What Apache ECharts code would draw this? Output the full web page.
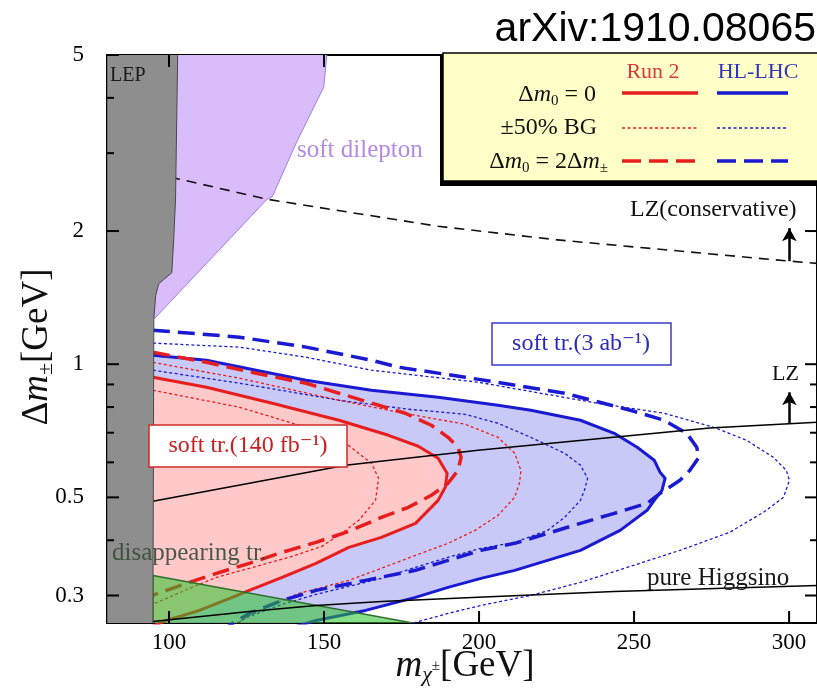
<!DOCTYPE html>
<html>
<head>
<meta charset="utf-8">
<script src="https://cdn.jsdelivr.net/npm/echarts@6/dist/echarts.min.js"></script>
<style>
  html, body { margin: 0; padding: 0; background: #fff; }
  #chart { width: 817px; height: 692px; }
</style>
</head>
<body>
<div id="chart"></div>
<script>
// Axis ranges and ticks
const xMin = 80, xMax = 309;
const yMin = 0.26, yMax = 5;
const xTicks = [100, 150, 200, 250, 300];
const yMajorTicks = [0.3, 0.5, 1, 2, 5];
const yMinorTicks = [0.4, 0.6, 0.7, 0.8, 0.9, 3, 4];

// Excluded / reference regions  [m_chi (GeV), dm (GeV)]
const lepBoundary = [[102.8, 5.2], [102.8, 5], [102.1, 2.35], [101.5, 1.91], [100.9, 1.61], [96.7, 1.52],
  [95.7, 1.43], [95.1, 1.26], [94.8, 0.25]];
const softDilepton = [[94, 5.2], [150.9, 5.2], [150.9, 5], [149.9, 4.23], [141.0, 3.16], [133.3, 2.39],
  [131.6, 2.36], [95.4, 1.27], [94, 1.27]];
const disappearingTrack = [[94.8, 0.333], [179.5, 0.2594], [94.8, 0.2594]];

// Direct-detection and theory lines
const lzConservative = [[95, 2.70], [103.4, 2.62], [131.6, 2.36], [186.8, 2.05], [225.3, 1.91], [300.1, 1.71], [309, 1.69]];
const lzLine = [[94.8, 0.49], [125.9, 0.538], [157.0, 0.591], [174.0, 0.610], [199.7, 0.639], [274.4, 0.717], [309, 0.739]];
const pureHiggsino = [[94.8, 0.2622], [125.9, 0.2760], [147.4, 0.2847], [168.5, 0.2909], [199.7, 0.2971], [243.6, 0.3065], [309, 0.3162]];
const lzArrowConservative = [[300.1, 1.71], [300.1, 2.03]];
const lzArrow = [[300.1, 0.733], [300.1, 0.864]];

// Soft-track reach, Run 2 (140 fb^-1)
const run2Solid = [[94, 0.9345], [94.8, 0.9345], [112.1, 0.887], [133.3, 0.8161], [154.8, 0.7469], [170.8, 0.6907],
  [180.4, 0.6524], [186.8, 0.6128], [189.7, 0.5666], [189.1, 0.5268], [186.8, 0.4923], [179.5, 0.4368],
  [168.5, 0.406], [158.0, 0.3855], [147.4, 0.3547], [136.5, 0.3297], [125.9, 0.3081], [120.4, 0.2971],
  [109.8, 0.2776], [99.2, 0.2635], [93.8, 0.254]];
const run2Dashed = [[94.8, 1.064], [112.1, 1.010], [128.1, 0.9541], [144.2, 0.9058], [154.8, 0.8598], [167.6, 0.8077],
  [176.2, 0.7747], [184.6, 0.7278], [190.0, 0.6835], [193.2, 0.6489], [194.2, 0.616], [193.2, 0.5755],
  [190.0, 0.538], [184.6, 0.5054], [177.2, 0.4748], [168.5, 0.4506], [158.0, 0.419], [147.4, 0.3956],
  [136.5, 0.3756], [125.9, 0.3547], [115.3, 0.3367], [106.6, 0.3212], [99.2, 0.3081], [93.8, 0.2986]];
const run2BgPlus = [[94.8, 0.8733], [122.7, 0.7993], [144.2, 0.7202], [157.0, 0.6626], [165.3, 0.597], [167.6, 0.5522],
  [166.6, 0.4923], [161.2, 0.4436], [155.7, 0.4146], [149.3, 0.3875], [138.7, 0.366], [125.9, 0.3456],
  [115.3, 0.3297], [106.6, 0.3114], [99.2, 0.2955], [93.8, 0.2849]];
const run2BgMinus = [[94.8, 1.010], [122.7, 0.9297], [154.8, 0.829], [174.0, 0.7788], [195.5, 0.7315], [206.1, 0.6835],
  [211.5, 0.6289], [213.5, 0.5755], [213.1, 0.5408], [211.5, 0.5001], [206.1, 0.4553], [198.7, 0.4211],
  [190.0, 0.3936], [179.5, 0.3698], [168.5, 0.3456], [158.0, 0.3246], [141.9, 0.3033], [134.5, 0.2879],
  [125.9, 0.2704], [121.1, 0.2567]];

// Soft-track reach, HL-LHC (3 ab^-1)
const hlSolid = [[94, 1.048], [94.8, 1.048], [112.1, 1.021], [128.1, 0.9692], [144.2, 0.9201], [165.3, 0.8733], [186.8, 0.8422],
  [206.1, 0.8077], [216.7, 0.7869], [232.7, 0.7469], [243.6, 0.6979], [251.0, 0.6489], [256.5, 0.6065],
  [258.4, 0.5695], [260.0, 0.5522], [259.0, 0.5187], [256.5, 0.4923], [254.2, 0.4674], [245.5, 0.4211],
  [232.7, 0.3795], [222.1, 0.3603], [211.5, 0.342], [200.6, 0.328], [190.0, 0.313], [179.5, 0.2971],
  [163.4, 0.2776], [147.4, 0.2635], [141.0, 0.2554]];
const hlDashed = [[94.8, 1.194], [122.7, 1.151], [144.2, 1.093], [165.3, 1.021], [174.0, 0.9845], [195.5, 0.9345],
  [227.6, 0.8598], [248.8, 0.7869], [259.7, 0.7469], [267.0, 0.6979], [270.2, 0.6489], [270.9, 0.616],
  [268.0, 0.5755], [264.8, 0.5464], [258.4, 0.5106], [254.2, 0.4847], [243.6, 0.4601], [232.7, 0.4368],
  [222.1, 0.4146], [211.5, 0.3936], [200.6, 0.3795], [190.0, 0.3603], [179.5, 0.342], [163.4, 0.3246],
  [147.4, 0.3081], [136.5, 0.2924], [125.9, 0.2733], [120.4, 0.2594], [118.8, 0.254]];
const hlBgPlus = [[94.8, 0.9692], [122.7, 0.9058], [154.8, 0.829], [177.2, 0.791], [195.5, 0.7705], [206.1, 0.7354],
  [216.7, 0.6835], [227.6, 0.6289], [232.7, 0.5914], [235.0, 0.5522], [234.0, 0.5187], [232.7, 0.4923],
  [227.6, 0.4506], [222.1, 0.4211], [211.5, 0.3956], [200.6, 0.3835], [190.0, 0.366], [179.5, 0.3474],
  [168.5, 0.328], [147.4, 0.3017], [136.5, 0.2864], [125.9, 0.269], [120.4, 0.2567]];
const hlBgMinus = [[94.8, 1.116], [122.7, 1.093], [144.2, 1.037], [165.3, 0.9692], [199.7, 0.9106], [238.2, 0.8161],
  [259.7, 0.7747], [275.7, 0.7202], [286.3, 0.673], [294.9, 0.616], [299.1, 0.5755], [300.1, 0.5464],
  [298.2, 0.5001], [291.7, 0.4625], [280.8, 0.4168], [264.8, 0.3795], [248.8, 0.3491], [232.7, 0.3212],
  [216.7, 0.3002], [200.6, 0.2849], [190.0, 0.2733], [179.5, 0.2608], [174.0, 0.254]];

const RED = '#e81e1e';
const BLUE = '#1a1ad2';
const SERIF = '"Liberation Serif", "DejaVu Serif", serif';

function closeToLeft(curve) {
  const first = curve[0], last = curve[curve.length - 1];
  return curve.concat([[xMin, last[1]], [xMin, first[1]]]);
}

function polygonSeries(points, style, z) {
  return {
    type: 'custom', coordinateSystem: 'cartesian2d', clip: true, silent: true, z: z,
    data: [points[0]],
    renderItem: function (params, api) {
      return { type: 'polygon', shape: { points: points.map(function (p) { return api.coord(p); }) }, style: style };
    }
  };
}

function lineSeries(points, color, width, dash, z) {
  return {
    type: 'line', data: points, symbol: 'none', showSymbol: false, silent: true, z: z,
    lineStyle: { color: color, width: width, type: dash || 'solid', cap: 'butt', join: 'round' }
  };
}

function arrowSeries(points) {
  return {
    type: 'line', data: [], symbol: 'none', silent: true, z: 8,
    markLine: {
      silent: true, symbol: ['none', 'arrow'], symbolSize: [11, 13],
      lineStyle: { color: '#000', width: 2.5, type: 'solid' }, label: { show: false },
      data: [[{ coord: points[0] }, { coord: points[1] }]]
    }
  };
}

// Ticks on all four sides, labels on the left and bottom
const tickSeries = [
  {
    type: 'custom', coordinateSystem: 'cartesian2d', clip: false, silent: true, z: 10,
    data: yMajorTicks.map(function (v) { return [xMin, v]; }),
    renderItem: function (params, api) {
      const v = api.value(1);
      const p = api.coord([xMin, v]), q = api.coord([xMax, v]);
      return { type: 'group', children: [
        { type: 'line', shape: { x1: p[0], y1: p[1], x2: p[0] + 12, y2: p[1] }, style: { stroke: '#000', lineWidth: 2 } },
        { type: 'line', shape: { x1: q[0], y1: q[1], x2: q[0] - 12, y2: q[1] }, style: { stroke: '#000', lineWidth: 2 } },
        { type: 'text', x: p[0] - 23, y: p[1], style: { text: String(v), align: 'right', verticalAlign: 'middle', font: '23px ' + SERIF, fill: '#000' } }
      ] };
    }
  },
  {
    type: 'custom', coordinateSystem: 'cartesian2d', clip: false, silent: true, z: 10,
    data: yMinorTicks.map(function (v) { return [xMin, v]; }),
    renderItem: function (params, api) {
      const v = api.value(1);
      const p = api.coord([xMin, v]), q = api.coord([xMax, v]);
      return { type: 'group', children: [
        { type: 'line', shape: { x1: p[0], y1: p[1], x2: p[0] + 7, y2: p[1] }, style: { stroke: '#000', lineWidth: 2 } },
        { type: 'line', shape: { x1: q[0], y1: q[1], x2: q[0] - 7, y2: q[1] }, style: { stroke: '#000', lineWidth: 2 } }
      ] };
    }
  },
  {
    type: 'custom', coordinateSystem: 'cartesian2d', clip: false, silent: true, z: 10,
    data: xTicks.map(function (v) { return [v, 1]; }),
    renderItem: function (params, api) {
      const v = api.value(0);
      const p = api.coord([v, yMin]), q = api.coord([v, yMax]);
      return { type: 'group', children: [
        { type: 'line', shape: { x1: p[0], y1: p[1], x2: p[0], y2: p[1] - 12 }, style: { stroke: '#000', lineWidth: 2 } },
        { type: 'line', shape: { x1: q[0], y1: q[1], x2: q[0], y2: q[1] + 12 }, style: { stroke: '#000', lineWidth: 2 } },
        { type: 'text', x: p[0], y: p[1] + 20, style: { text: String(v), align: 'center', verticalAlign: 'middle', font: '23px ' + SERIF, fill: '#000' } }
      ] };
    }
  }
];

const series = [
  polygonSeries(closeToLeft(hlSolid), { fill: '#c9c9f7' }, 1),
  polygonSeries(closeToLeft(run2Solid), { fill: '#ffc9c9' }, 2),

  lineSeries(hlBgMinus, BLUE, 1.3, [3, 2.5], 3),
  lineSeries(hlBgPlus, BLUE, 1.3, [3, 2.5], 3),
  lineSeries(run2BgMinus, RED, 1.3, [3, 2.5], 3),
  lineSeries(run2BgPlus, RED, 1.3, [3, 2.5], 3),
  lineSeries(hlDashed, BLUE, 3.5, [17, 8], 3),
  lineSeries(hlSolid, BLUE, 3, 'solid', 3),
  lineSeries(run2Dashed, RED, 3.5, [17, 8], 3),
  lineSeries(run2Solid, RED, 3, 'solid', 3),

  polygonSeries(disappearingTrack, { fill: 'rgba(40,195,40,0.55)', stroke: '#2c6e2c', lineWidth: 1.5 }, 4),
  lineSeries(pureHiggsino, '#000', 1.5, 'solid', 5),
  lineSeries(lzLine, '#000', 1.5, 'solid', 5),

  polygonSeries(softDilepton, { fill: '#d9bcfa', stroke: '#a57ce4', lineWidth: 1 }, 5),
  lineSeries(lzConservative, '#111', 1.6, [10, 7], 6),
  arrowSeries(lzArrowConservative),
  arrowSeries(lzArrow),

  polygonSeries(lepBoundary.concat([[xMin, 0.25], [xMin, 5.2]]), { fill: '#8e8e8e', stroke: '#4a4a4a', lineWidth: 1 }, 7)
].concat(tickSeries);

const legendX = 443, legendY = 53;
const legendRich = {
  n: { font: '24px ' + SERIF, lineHeight: 28 },
  i: { font: 'italic 24px ' + SERIF, lineHeight: 28 },
  s: { font: '15px ' + SERIF, lineHeight: 15, verticalAlign: 'bottom' }
};
const graphic = [
  { type: 'text', x: 816, y: 30, z: 100, style: { text: 'arXiv:1910.08065', font: '41px "Liberation Sans", Arial, sans-serif', fill: '#000', align: 'right', verticalAlign: 'middle' } },

  // legend box
  { type: 'rect', z: 90, shape: { x: legendX - 3, y: legendY + 3, width: 400, height: 130 }, style: { fill: '#000' } },
  { type: 'rect', z: 91, shape: { x: legendX, y: legendY, width: 400, height: 128 }, style: { fill: '#ffffc8', stroke: '#000', lineWidth: 1.5 } },
  { type: 'text', z: 92, x: 653, y: 72, style: { text: 'Run 2', font: '22px ' + SERIF, fill: '#d83a3a', align: 'center', verticalAlign: 'middle' } },
  { type: 'text', z: 92, x: 758, y: 72, style: { text: 'HL-LHC', font: '22px ' + SERIF, fill: '#3434b8', align: 'center', verticalAlign: 'middle' } },
  { type: 'text', z: 92, x: 596, y: 95, style: { text: '{n|Δ}{i|m}{s|0}{n| = 0}', align: 'right', verticalAlign: 'middle', fill: '#111', rich: legendRich } },
  { type: 'text', z: 92, x: 597, y: 128, style: { text: '±50% BG', font: '24px ' + SERIF, fill: '#111', align: 'right', verticalAlign: 'middle' } },
  { type: 'text', z: 92, x: 608, y: 162, style: { text: '{n|Δ}{i|m}{s|0}{n| = 2Δ}{i|m}{s|±}', align: 'right', verticalAlign: 'middle', fill: '#111', rich: legendRich } },
  { type: 'line', z: 92, shape: { x1: 622, y1: 93, x2: 698, y2: 93 }, style: { stroke: RED, lineWidth: 3.5 } },
  { type: 'line', z: 92, shape: { x1: 717, y1: 93, x2: 788, y2: 93 }, style: { stroke: BLUE, lineWidth: 3.5 } },
  { type: 'line', z: 92, shape: { x1: 622, y1: 128, x2: 698, y2: 128 }, style: { stroke: RED, lineWidth: 1.3, lineDash: [3, 2.5] } },
  { type: 'line', z: 92, shape: { x1: 717, y1: 128, x2: 788, y2: 128 }, style: { stroke: BLUE, lineWidth: 1.3, lineDash: [3, 2.5] } },
  { type: 'line', z: 92, shape: { x1: 622, y1: 161, x2: 698, y2: 161 }, style: { stroke: RED, lineWidth: 3.5, lineDash: [19, 8] } },
  { type: 'line', z: 92, shape: { x1: 717, y1: 161, x2: 788, y2: 161 }, style: { stroke: BLUE, lineWidth: 3.5, lineDash: [19, 8] } },

  // region labels
  { type: 'text', z: 80, x: 110, y: 76, style: { text: 'LEP', font: '20px ' + SERIF, fill: '#1a1a1a', align: 'left', verticalAlign: 'middle' } },
  { type: 'text', z: 80, x: 297, y: 150, style: { text: 'soft dilepton', font: '25px ' + SERIF, fill: '#b48ae6', align: 'left', verticalAlign: 'middle' } },
  { type: 'text', z: 80, x: 630, y: 210, style: { text: 'LZ(conservative)', font: '24px ' + SERIF, fill: '#111', align: 'left', verticalAlign: 'middle' } },
  { type: 'text', z: 80, x: 772, y: 374, style: { text: 'LZ', font: '22px ' + SERIF, fill: '#111', align: 'left', verticalAlign: 'middle' } },
  { type: 'text', z: 80, x: 112, y: 553, style: { text: 'disappearing tr.', font: '25px ' + SERIF, fill: 'rgba(55,75,55,0.9)', align: 'left', verticalAlign: 'middle' } },
  { type: 'text', z: 80, x: 647, y: 578, style: { text: 'pure Higgsino', font: '25px ' + SERIF, fill: '#1a1a1a', align: 'left', verticalAlign: 'middle' } },
  { type: 'rect', z: 80, shape: { x: 492, y: 323, width: 179, height: 42 }, style: { fill: '#fff', stroke: '#3a3ad0', lineWidth: 1.5 } },
  { type: 'text', z: 81, x: 581, y: 344, style: { text: 'soft tr.(3 ab⁻¹)', font: '24px ' + SERIF, fill: '#2a2ac0', align: 'center', verticalAlign: 'middle' } },
  { type: 'rect', z: 80, shape: { x: 149, y: 425, width: 198, height: 42 }, style: { fill: '#fff', stroke: '#d02a2a', lineWidth: 1.5 } },
  { type: 'text', z: 81, x: 248, y: 446, style: { text: 'soft tr.(140 fb⁻¹)', font: '24px ' + SERIF, fill: '#c82020', align: 'center', verticalAlign: 'middle' } },

  // axis titles
  { type: 'text', z: 80, x: 465, y: 666, style: { text: '{i|m}{s|χ}{p|±}{n|[GeV]}', align: 'center', verticalAlign: 'middle', fill: '#111',
      rich: { n: { font: '37px ' + SERIF, lineHeight: 40 }, i: { font: 'italic 37px ' + SERIF, lineHeight: 40 },
              s: { font: 'italic 22px ' + SERIF, lineHeight: 22, verticalAlign: 'bottom' }, p: { font: '15px ' + SERIF, lineHeight: 15, verticalAlign: 'middle' } } } },
  { type: 'text', z: 80, x: 37, y: 347, rotation: Math.PI / 2, style: { text: '{n|Δ}{i|m}{s|±}{n|[GeV]}', align: 'center', verticalAlign: 'middle', fill: '#111',
      rich: { n: { font: '37px ' + SERIF, lineHeight: 40 }, i: { font: 'italic 37px ' + SERIF, lineHeight: 40 },
              s: { font: '22px ' + SERIF, lineHeight: 22, verticalAlign: 'bottom' } } } }
];

const chart = echarts.init(document.getElementById('chart'), null, { renderer: 'canvas' });
chart.setOption({
  animation: false,
  backgroundColor: '#fff',
  grid: { left: 107, right: -4, top: 55, bottom: 69, show: true, borderColor: '#000', borderWidth: 2, backgroundColor: 'transparent' },
  xAxis: { type: 'value', min: xMin, max: xMax, axisLine: { show: false }, axisTick: { show: false }, axisLabel: { show: false }, splitLine: { show: false } },
  yAxis: { type: 'log', logBase: 10, min: yMin, max: yMax, axisLine: { show: false }, axisTick: { show: false }, axisLabel: { show: false }, splitLine: { show: false }, minorSplitLine: { show: false } },
  series: series,
  graphic: graphic
});
</script>
</body>
</html>
